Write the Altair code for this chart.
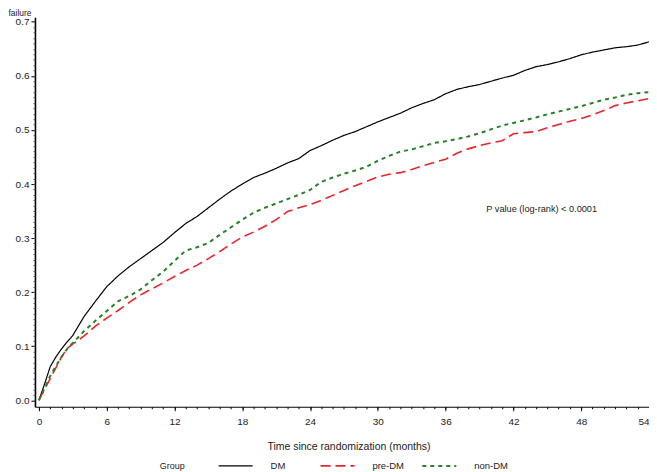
import altair as alt
import pandas as pd

months = [0, 0.5, 1, 1.5, 2, 2.5, 3] + list(range(4, 55))

dm = [0, 0.03, 0.062, 0.08, 0.095, 0.108, 0.12,
      0.155, 0.183, 0.21, 0.23, 0.247, 0.262, 0.277, 0.292, 0.31, 0.327,
      0.34, 0.356, 0.372, 0.387, 0.4, 0.412, 0.42, 0.429, 0.439, 0.447,
      0.462, 0.471, 0.481, 0.49, 0.497, 0.506, 0.515, 0.523, 0.531, 0.541,
      0.549, 0.556, 0.567, 0.575, 0.58, 0.584, 0.59, 0.596, 0.601, 0.61,
      0.617, 0.621, 0.626, 0.632, 0.639, 0.644, 0.648, 0.652, 0.654, 0.657,
      0.663]

pre_dm = [0, 0.02, 0.04, 0.06, 0.08, 0.096, 0.104,
          0.119, 0.137, 0.152, 0.166, 0.181, 0.195, 0.206, 0.217, 0.229, 0.24,
          0.25, 0.262, 0.275, 0.289, 0.302, 0.311, 0.322, 0.334, 0.349, 0.356,
          0.362, 0.37, 0.379, 0.388, 0.397, 0.405, 0.413, 0.418, 0.421, 0.427,
          0.434, 0.44, 0.446, 0.457, 0.465, 0.471, 0.476, 0.48, 0.493, 0.495,
          0.497, 0.504, 0.51, 0.516, 0.521, 0.528, 0.536, 0.545, 0.55, 0.554,
          0.558]

non_dm = [0, 0.022, 0.045, 0.063, 0.08, 0.095, 0.106,
          0.128, 0.147, 0.165, 0.183, 0.193, 0.205, 0.222, 0.238, 0.258, 0.277,
          0.283, 0.291, 0.306, 0.32, 0.334, 0.347, 0.356, 0.364, 0.372, 0.38,
          0.389, 0.404, 0.412, 0.419, 0.425, 0.432, 0.443, 0.452, 0.46, 0.464,
          0.47, 0.476, 0.479, 0.483, 0.488, 0.494, 0.501, 0.508, 0.513, 0.518,
          0.523, 0.529, 0.534, 0.539, 0.544, 0.55, 0.556, 0.56, 0.565, 0.568,
          0.57]

groups = ["DM", "pre-DM", "non-DM"]
colors = ["#000000", "#e8262b", "#2a7f2a"]
dashes = [[1, 0], [10, 5], [4, 4]]
widths = [1.2, 2.0, 2.0]

x_major = list(range(0, 55, 6))
x_minor = list(range(0, 55))
y_major = [0.0, 0.1, 0.2, 0.3, 0.4, 0.5, 0.6, 0.7]
y_minor = [i / 100 for i in range(0, 71)]

pval_text = "P value (log-rank) < 0.0001"
pval_x = 39.6
pval_y = 0.353

rows = []
for g, vals in zip(groups, [dm, pre_dm, non_dm]):
    for m, v in zip(months, vals):
        rows.append({"month": m, "failure": v, "group": g})
df = pd.DataFrame(rows)

FONT = "Liberation Sans"
xs = alt.Scale(domain=[-0.35, 54], nice=False, zero=False)
ys = alt.Scale(domain=[-0.012, 0.7083], nice=False, zero=False)

leg = alt.Legend(
    title="Group", orient="none", legendX=125, legendY=431,
    direction="horizontal", columns=3, titleOrient="left", titlePadding=32,
    titleAnchor="end", titleBaseline="bottom",
    symbolType="stroke", symbolSize=1156, symbolStrokeWidth=2,
    labelOffset=17, columnPadding=12, gridAlign="all",
    labelFontSize=9.5, titleFontSize=9, titleFontWeight="normal",
    labelFont=FONT, titleFont=FONT, labelColor="#222", titleColor="#222",
    labelLimit=200,
)

lines = alt.Chart(df).mark_line(clip=True).encode(
    x=alt.X("month:Q", scale=xs, axis=alt.Axis(
        values=x_major, format="d", title="Time since randomization (months)",
        orient="bottom", tickSize=4, labelPadding=6, titlePadding=15,
        titleX=314, titleFontSize=10.5, titleFontWeight="normal", grid=False,
        domainColor="#000", domainWidth=1, tickColor="#000",
        labelFontSize=10, labelColor="#222", titleColor="#222",
        labelFont=FONT, titleFont=FONT)),
    y=alt.Y("failure:Q", scale=ys, axis=alt.Axis(
        values=y_major, format=".1f", title="failure", orient="left",
        titleAngle=0, titleX=-27, titleY=-9, titleAlign="left",
        titleBaseline="top", titleFontSize=8.5, titleFontWeight="normal",
        tickSize=4, labelPadding=2, grid=False,
        domainColor="#000", domainWidth=1.6, tickColor="#000",
        labelFontSize=10, labelColor="#222", titleColor="#222",
        labelFont=FONT, titleFont=FONT)),
    color=alt.Color("group:N", scale=alt.Scale(domain=groups, range=colors), legend=leg),
    strokeDash=alt.StrokeDash("group:N", scale=alt.Scale(domain=groups, range=dashes), legend=leg),
    strokeWidth=alt.StrokeWidth("group:N", scale=alt.Scale(domain=groups, range=widths), legend=None),
)

minor = alt.Chart(df).mark_line(opacity=0).encode(
    x=alt.X("month:Q", scale=xs, axis=alt.Axis(
        values=x_minor, labels=False, domain=False, title=None, orient="bottom",
        tickSize=2, grid=False, tickColor="#000")),
    y=alt.Y("failure:Q", scale=ys, axis=alt.Axis(
        values=y_minor, labels=False, domain=False, title=None, orient="left",
        tickSize=2, grid=False, tickColor="#555")),
    detail="group:N",
)

ptext = alt.Chart(pd.DataFrame({"x": [pval_x], "y": [pval_y], "t": [pval_text]})).mark_text(
    align="left", baseline="middle", fontSize=9.2, font=FONT, color="#222"
).encode(
    x=alt.X("x:Q", scale=xs, axis=None),
    y=alt.Y("y:Q", scale=ys, axis=None),
    text="t:N",
)

chart = alt.layer(lines, minor, ptext).resolve_axis(
    x="independent", y="independent"
).properties(
    width=615, height=390,
    autosize=alt.AutoSizeParams(type="none"),
    padding={"left": 27, "top": 9, "right": 0, "bottom": 64},
).configure_view(stroke=None)

chart.save("out.html", embed_options={"renderer": "svg", "actions": False})
